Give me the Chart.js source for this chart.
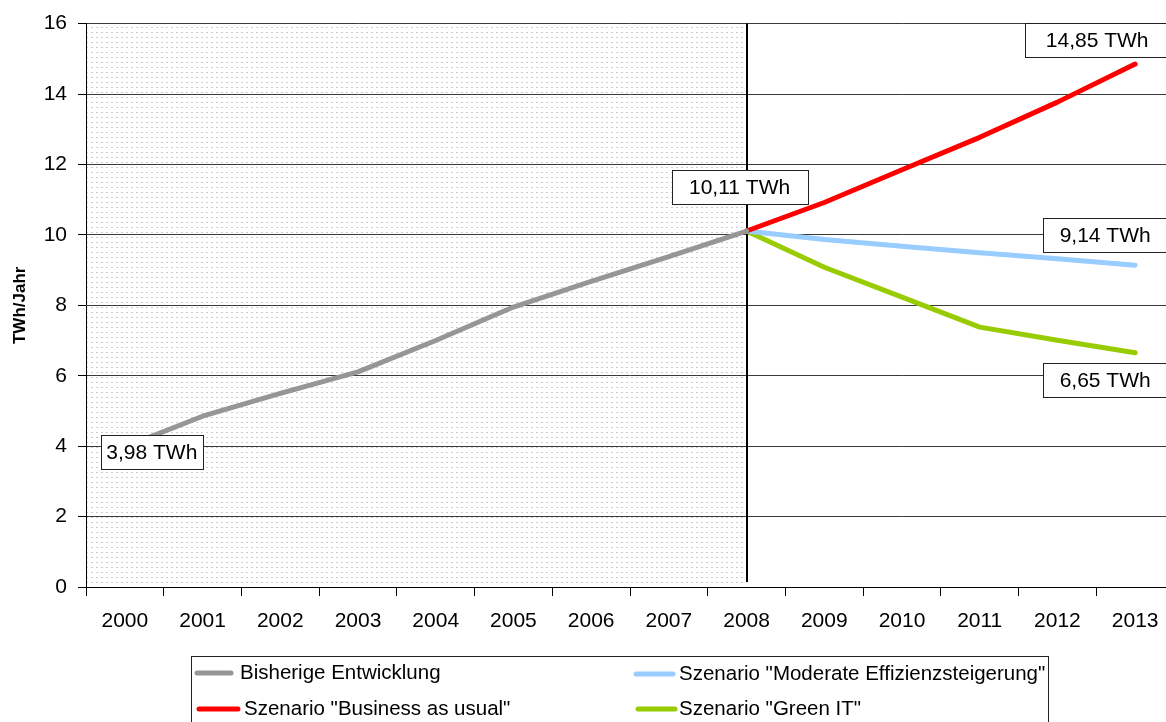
<!DOCTYPE html>
<html>
<head>
<meta charset="utf-8">
<title>Stromverbrauch TWh/Jahr 2000–2013</title>
<script src="https://cdn.jsdelivr.net/npm/chart.js@4/dist/chart.umd.min.js"></script>
<style>
  html, body { margin: 0; padding: 0; background: #fff; overflow: hidden; }
  #wrap { width: 1180px; height: 722px; }
</style>
</head>
<body>
<div id="wrap"><canvas id="c" width="1180" height="722"></canvas></div>
<script>
// Years on the category axis
const years = ['2000', '2001', '2002', '2003', '2004', '2005', '2006',
               '2007', '2008', '2009', '2010', '2011', '2012', '2013'];

// Historic development up to 2008 (TWh/year)
const historic = [3.98, 4.85, 5.50, 6.11, 7.00, 7.95, 8.68, 9.38, 10.11,
                  null, null, null, null, null];

// Scenarios from 2008 onwards (TWh/year)
const businessAsUsual = [null, null, null, null, null, null, null, null,
                         10.11, 10.92, 11.85, 12.77, 13.77, 14.85];
const moderateEfficiency = [null, null, null, null, null, null, null, null,
                            10.11, 9.87, 9.68, 9.49, 9.32, 9.14];
const greenIT = [null, null, null, null, null, null, null, null,
                 10.11, 9.08, 8.23, 7.38, 7.01, 6.65];

// Y axis ticks
const yTicks = [0, 2, 4, 6, 8, 10, 12, 14, 16];

const seriesNames = [
  'Bisherige Entwicklung',
  'Szenario "Business as usual"',
  'Szenario "Moderate Effizienzsteigerung"',
  'Szenario "Green IT"'
];

const FONT = "'Liberation Sans', Arial, sans-serif";
const LAST_HISTORIC = '2008';

// Light dotted fill for the historic part of the plot
function makeDotPattern(ctx) {
  const tile = document.createElement('canvas');
  tile.width = 5; tile.height = 5;
  const t = tile.getContext('2d');
  t.fillStyle = '#cdcdcd';
  t.fillRect(1, 2, 2, 1);
  return ctx.createPattern(tile, 'repeat');
}

const historyShade = {
  id: 'historyShade',
  beforeDraw(chart) {
    const { ctx, chartArea: a, scales: { x } } = chart;
    const xEnd = x.getPixelForValue(years.indexOf(LAST_HISTORIC));
    ctx.save();
    ctx.fillStyle = makeDotPattern(ctx);
    ctx.fillRect(a.left, a.top, xEnd - a.left, a.bottom - a.top);
    ctx.restore();
  },
  beforeDatasetsDraw(chart) {
    const { ctx, chartArea: a, scales: { x } } = chart;
    const xv = Math.round(x.getPixelForValue(years.indexOf(LAST_HISTORIC)));
    ctx.save();
    ctx.strokeStyle = '#000';
    ctx.lineWidth = 2;
    ctx.beginPath();
    ctx.moveTo(xv, a.top);
    ctx.lineTo(xv, a.bottom - 5);
    ctx.stroke();
    ctx.restore();
  }
};

// Boxed value callouts attached to data points
const valueCallouts = {
  id: 'valueCallouts',
  afterDatasetsDraw(chart, args, opts) {
    const { ctx } = chart;
    ctx.save();
    ctx.font = `21px ${FONT}`;
    ctx.textAlign = 'center';
    ctx.textBaseline = 'middle';
    opts.items.forEach(it => {
      const pt = chart.getDatasetMeta(it.ds).data[it.idx];
      const v = chart.data.datasets[it.ds].data[it.idx];
      const text = v.toFixed(2).replace('.', ',') + ' TWh';
      const cx = pt.x + it.dx, cy = pt.y + it.dy;
      const h = 34;
      const left = Math.round(cx - it.w / 2) + 0.5;
      const top = Math.round(cy - h / 2) + 0.5;
      ctx.fillStyle = '#fff';
      ctx.fillRect(left, top, it.w, h);
      ctx.strokeStyle = '#222';
      ctx.lineWidth = 1;
      ctx.strokeRect(left, top, it.w, h);
      ctx.fillStyle = '#000';
      ctx.fillText(text, cx, cy + 1);
    });
    ctx.restore();
  }
};

// Framed legend below the axis, two columns
const boxLegend = {
  id: 'boxLegend',
  afterDraw(chart, args, opts) {
    const { ctx } = chart;
    const b = opts.box;
    ctx.save();
    ctx.strokeStyle = '#222';
    ctx.lineWidth = 1;
    ctx.strokeRect(b.x + 0.5, b.y + 0.5, b.w, b.h);
    ctx.font = `20.5px ${FONT}`;
    ctx.textBaseline = 'middle';
    ctx.textAlign = 'left';
    chart.data.datasets.forEach((ds, i) => {
      const p = opts.slots[i];
      ctx.strokeStyle = ds.borderColor;
      ctx.lineWidth = 5;
      ctx.lineCap = 'round';
      ctx.beginPath();
      ctx.moveTo(p.x1, p.y);
      ctx.lineTo(p.x2, p.y);
      ctx.stroke();
      ctx.fillStyle = '#000';
      ctx.fillText(ds.label, p.tx, p.y);
    });
    ctx.restore();
  }
};

const lineStyle = {
  borderWidth: 5,
  pointRadius: 0,
  pointHoverRadius: 0,
  tension: 0,
  borderCapStyle: 'round',
  borderJoinStyle: 'round',
  spanGaps: false,
  fill: false
};

new Chart(document.getElementById('c'), {
  type: 'line',
  data: {
    labels: years,
    datasets: [
      { ...lineStyle, label: seriesNames[0], data: historic, borderColor: '#969696' },
      { ...lineStyle, label: seriesNames[1], data: businessAsUsual, borderColor: '#ff0000' },
      { ...lineStyle, label: seriesNames[2], data: moderateEfficiency, borderColor: '#99ccff' },
      { ...lineStyle, label: seriesNames[3], data: greenIT, borderColor: '#99cc00' }
    ]
  },
  options: {
    responsive: false,
    animation: false,
    layout: { padding: { top: 22, right: 6, bottom: 75, left: 0 } },
    plugins: {
      legend: { display: false },
      tooltip: { enabled: false },
      valueCallouts: {
        items: [
          { ds: 0, idx: 0, dx: 27, dy: 5, w: 102 },
          { ds: 0, idx: 8, dx: -7, dy: -44, w: 136 },
          { ds: 1, idx: 13, dx: -38, dy: -24, w: 144 },
          { ds: 2, idx: 13, dx: -30, dy: -30, w: 124 },
          { ds: 3, idx: 13, dx: -30, dy: 27, w: 124 }
        ]
      },
      boxLegend: {
        box: { x: 191, y: 656, w: 857, h: 90 },
        slots: [
          { x1: 197, x2: 231, y: 673, tx: 240 },
          { x1: 199, x2: 238, y: 709, tx: 244 },
          { x1: 636, x2: 673, y: 674, tx: 679 },
          { x1: 638, x2: 675, y: 709, tx: 679 }
        ]
      }
    },
    scales: {
      x: {
        type: 'category',
        offset: true,
        grid: {
          display: true,
          offset: true,
          drawOnChartArea: false,
          drawTicks: true,
          tickLength: 9,
          color: '#000'
        },
        border: { display: true, color: '#000', width: 1 },
        ticks: {
          color: '#000',
          font: { family: FONT, size: 21 },
          padding: 13,
          maxRotation: 0,
          autoSkip: false
        },
        afterFit(scale) { scale.height = 60; }
      },
      y: {
        min: 0,
        max: 16,
        afterBuildTicks(scale) { scale.ticks = yTicks.map(v => ({ value: v })); },
        grid: {
          color: '#3a3a3a',
          lineWidth: 1,
          drawTicks: true,
          tickLength: 8,
          tickColor: '#000'
        },
        border: { display: true, color: '#000', width: 1 },
        ticks: {
          color: '#000',
          font: { family: FONT, size: 21 },
          padding: 11
        },
        title: {
          display: true,
          text: 'TWh/Jahr',
          color: '#000',
          font: { family: FONT, size: 17, weight: 'bold' },
          padding: { top: 10, bottom: 0 }
        },
        afterFit(scale) { scale.width = 86; }
      }
    }
  },
  plugins: [historyShade, valueCallouts, boxLegend]
});
</script>
</body>
</html>
